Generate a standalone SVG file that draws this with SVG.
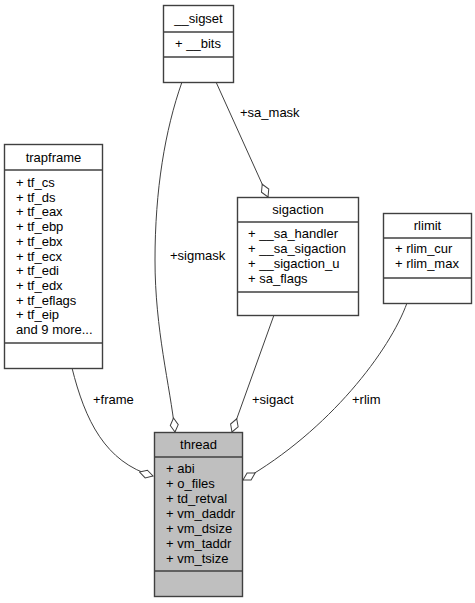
<svg xmlns="http://www.w3.org/2000/svg" width="475" height="603" viewBox="0 0 475 603">
<defs>
<marker id="dia" viewBox="0 0 16 10" refX="15" refY="5" markerWidth="16" markerHeight="10" markerUnits="userSpaceOnUse" orient="auto">
<path d="M1,5 L8,1 L15,5 L8,9 Z" fill="#ffffff" stroke="#404040" stroke-width="1"/>
</marker>
</defs>
<style>
.box{fill:#ffffff;stroke:#404040;stroke-width:1.4}
.grey{fill:#bfbfbf}
.ln{stroke:#404040;stroke-width:1.4}
text{font-family:"Liberation Sans",Arial,sans-serif;font-size:13px;fill:#000000}
.t{text-anchor:middle}
.edge{fill:none;stroke:#404040;stroke-width:1;marker-end:url(#dia)}
</style>
<rect width="475" height="603" fill="#ffffff"/>
<g id="connectors">
<path class="edge" d="M72,368 C85,420 105,462 153,476"/>
<path class="edge" d="M182,82 C165,130 155,190 155,260 C155,330 170,385 175,432"/>
<path class="edge" d="M216,82 L268,197"/>
<path class="edge" d="M274,315 L232,432"/>
<path class="edge" d="M407,303 C390,350 330,430 243,480"/>
<text x="93" y="404">+frame</text>
<text x="170" y="260">+sigmask</text>
<text x="240" y="117">+sa_mask</text>
<text x="252" y="404">+sigact</text>
<text x="352" y="404">+rlim</text>
</g>
<g id="sigset">
<rect class="box" x="163.5" y="5.5" width="70" height="77"/>
<line class="ln" x1="163.5" y1="32" x2="233.5" y2="32"/>
<line class="ln" x1="163.5" y1="57" x2="233.5" y2="57"/>
<text class="t" x="198.5" y="23">__sigset</text>
<text x="175" y="48">+ __bits</text>
</g>
<g id="trapframe">
<rect class="box" x="4.5" y="144.5" width="98" height="224"/>
<line class="ln" x1="4.5" y1="170" x2="102.5" y2="170"/>
<line class="ln" x1="4.5" y1="343" x2="102.5" y2="343"/>
<text class="t" x="53.5" y="162">trapframe</text>
<text x="16" y="187">+ tf_cs</text>
<text x="16" y="201.7">+ tf_ds</text>
<text x="16" y="216.4">+ tf_eax</text>
<text x="16" y="231.1">+ tf_ebp</text>
<text x="16" y="245.8">+ tf_ebx</text>
<text x="16" y="260.5">+ tf_ecx</text>
<text x="16" y="275.2">+ tf_edi</text>
<text x="16" y="289.9">+ tf_edx</text>
<text x="16" y="304.6">+ tf_eflags</text>
<text x="16" y="319.3">+ tf_eip</text>
<text x="16" y="334">and 9 more...</text>
</g>
<g id="sigaction">
<rect class="box" x="237.5" y="197.5" width="121" height="118"/>
<line class="ln" x1="237.5" y1="222" x2="358.5" y2="222"/>
<line class="ln" x1="237.5" y1="292" x2="358.5" y2="292"/>
<text class="t" x="298" y="214">sigaction</text>
<text x="248" y="238">+ __sa_handler</text>
<text x="248" y="253">+ __sa_sigaction</text>
<text x="248" y="268">+ __sigaction_u</text>
<text x="248" y="283">+ sa_flags</text>
</g>
<g id="rlimit">
<rect class="box" x="383.5" y="213.5" width="88" height="90"/>
<line class="ln" x1="383.5" y1="238" x2="471.5" y2="238"/>
<line class="ln" x1="383.5" y1="278" x2="471.5" y2="278"/>
<text class="t" x="427.5" y="230">rlimit</text>
<text x="395" y="253">+ rlim_cur</text>
<text x="395" y="268">+ rlim_max</text>
</g>
<g id="thread">
<rect class="box grey" x="154.5" y="432.5" width="88" height="164"/>
<line class="ln" x1="154.5" y1="457" x2="242.5" y2="457"/>
<line class="ln" x1="154.5" y1="571" x2="242.5" y2="571"/>
<text class="t" x="198.5" y="449">thread</text>
<text x="166" y="473">+ abi</text>
<text x="166" y="488">+ o_files</text>
<text x="166" y="503">+ td_retval</text>
<text x="166" y="518">+ vm_daddr</text>
<text x="166" y="533">+ vm_dsize</text>
<text x="166" y="548">+ vm_taddr</text>
<text x="166" y="563">+ vm_tsize</text>
</g>
</svg>
